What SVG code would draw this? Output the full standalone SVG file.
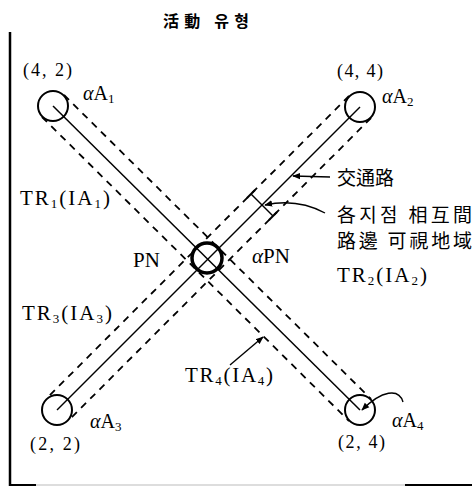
<svg xmlns="http://www.w3.org/2000/svg" width="472" height="487" viewBox="0 0 472 487">
<style>
.t{font-family:"Liberation Serif","Noto Sans CJK KR",serif;fill:#000}
.k{font-family:"Noto Sans CJK KR","Liberation Serif",serif;fill:#000}
.road{stroke:#000;stroke-width:1.5;fill:none}
.dash{stroke:#000;stroke-width:1.8;stroke-dasharray:7 6;fill:none}
.node{fill:none;stroke:#000;stroke-width:2}
.arr{stroke:#000;stroke-width:1.4;fill:none}
.al{font-style:italic}
</style>
<defs>
<marker id="ah" viewBox="0 0 10 10" refX="9" refY="5" markerWidth="8" markerHeight="8" orient="auto" markerUnits="userSpaceOnUse">
<path d="M0,1 L10,5 L0,9 Z" fill="#000"/>
</marker>
</defs>
<rect width="472" height="487" fill="#fff"/>
<g id="frame">
<line x1="10" y1="32" x2="10" y2="486" stroke="#000" stroke-width="2.5"/>
<line x1="10" y1="485" x2="36" y2="485" stroke="#000" stroke-width="2"/>
<line x1="36" y1="485" x2="405" y2="485" stroke="#bbb" stroke-width="1"/>
<line x1="405" y1="485" x2="472" y2="485" stroke="#000" stroke-width="2"/>
</g>
<text class="k" x="163" y="27" font-size="16" font-weight="bold" textLength="86" lengthAdjust="spacing">活動 유형</text>
<g id="connectors">
<line class="road" x1="53" y1="106" x2="360" y2="410"/>
<line class="road" x1="360" y1="107" x2="57" y2="410"/>
<line class="dash" x1="64" y1="95" x2="371" y2="399"/>
<line class="dash" x1="42" y1="117" x2="349" y2="421"/>
<line class="dash" x1="349" y1="96" x2="46" y2="399"/>
<line class="dash" x1="371" y1="118" x2="68" y2="421"/>
<line class="arr" x1="330" y1="177" x2="293" y2="176" marker-end="url(#ah)"/>
<path class="arr" d="M325,213 Q297,198 265,205" marker-end="url(#ah)"/>
<line x1="251" y1="194" x2="273" y2="216" stroke="#000" stroke-width="1.4"/>
<line x1="247" y1="198" x2="255" y2="190" stroke="#000" stroke-width="2"/>
<line x1="269" y1="220" x2="277" y2="212" stroke="#000" stroke-width="2"/>
<line class="arr" x1="230" y1="365" x2="263" y2="337" marker-end="url(#ah)"/>
<path class="arr" d="M403,402 C399,388 382,390 362,410" marker-end="url(#ah)"/>
</g>
<g id="A1"><circle class="node" cx="53" cy="106" r="15"/>
<text class="t" x="23" y="76" font-size="18" textLength="49" lengthAdjust="spacing">(4, 2)</text>
<text class="t" x="83" y="100" font-size="20"><tspan class="al">α</tspan>A<tspan font-size="13" dy="3">1</tspan></text></g>
<g id="A2"><circle class="node" cx="360" cy="107" r="15"/>
<text class="t" x="337" y="77" font-size="18" textLength="46" lengthAdjust="spacing">(4, 4)</text>
<text class="t" x="382" y="103" font-size="20"><tspan class="al">α</tspan>A<tspan font-size="13" dy="3">2</tspan></text></g>
<g id="A3"><circle class="node" cx="57" cy="410" r="15"/>
<text class="t" x="30" y="450" font-size="18" textLength="50" lengthAdjust="spacing">(2, 2)</text>
<text class="t" x="90" y="428" font-size="20"><tspan class="al">α</tspan>A<tspan font-size="13" dy="3">3</tspan></text></g>
<g id="A4"><circle class="node" cx="360" cy="410" r="15"/>
<text class="t" x="338" y="448" font-size="18" textLength="47" lengthAdjust="spacing">(2, 4)</text>
<text class="t" x="392" y="427" font-size="20"><tspan class="al">α</tspan>A<tspan font-size="13" dy="3">4</tspan></text></g>
<g id="PN"><circle cx="207" cy="258" r="15" fill="none" stroke="#000" stroke-width="3.5"/>
<text class="t" x="133" y="267" font-size="21">PN</text>
<text class="t" x="252" y="263" font-size="21"><tspan class="al">α</tspan>PN</text></g>
<g id="labels">
<text class="t" x="20" y="205" font-size="21" textLength="90" lengthAdjust="spacing">TR<tspan font-size="13" dy="3">1</tspan><tspan dy="-3">(IA</tspan><tspan font-size="13" dy="3">1</tspan><tspan dy="-3">)</tspan></text>
<text class="t" x="22" y="320" font-size="21" textLength="90" lengthAdjust="spacing">TR<tspan font-size="13" dy="3">3</tspan><tspan dy="-3">(IA</tspan><tspan font-size="13" dy="3">3</tspan><tspan dy="-3">)</tspan></text>
<text class="t" x="185" y="382" font-size="21" textLength="88" lengthAdjust="spacing">TR<tspan font-size="13" dy="3">4</tspan><tspan dy="-3">(IA</tspan><tspan font-size="13" dy="3">4</tspan><tspan dy="-3">)</tspan></text>
<text class="t" x="337" y="282" font-size="21" textLength="90" lengthAdjust="spacing">TR<tspan font-size="13" dy="3">2</tspan><tspan dy="-3">(IA</tspan><tspan font-size="13" dy="3">2</tspan><tspan dy="-3">)</tspan></text>
<text class="k" x="337" y="185" font-size="19">交通路</text>
<text class="k" x="337" y="222" font-size="19" textLength="135" lengthAdjust="spacing">各지점 相互間</text>
<text class="k" x="337" y="248" font-size="19" textLength="135" lengthAdjust="spacing">路邊 可視地域</text>
</g>
</svg>
